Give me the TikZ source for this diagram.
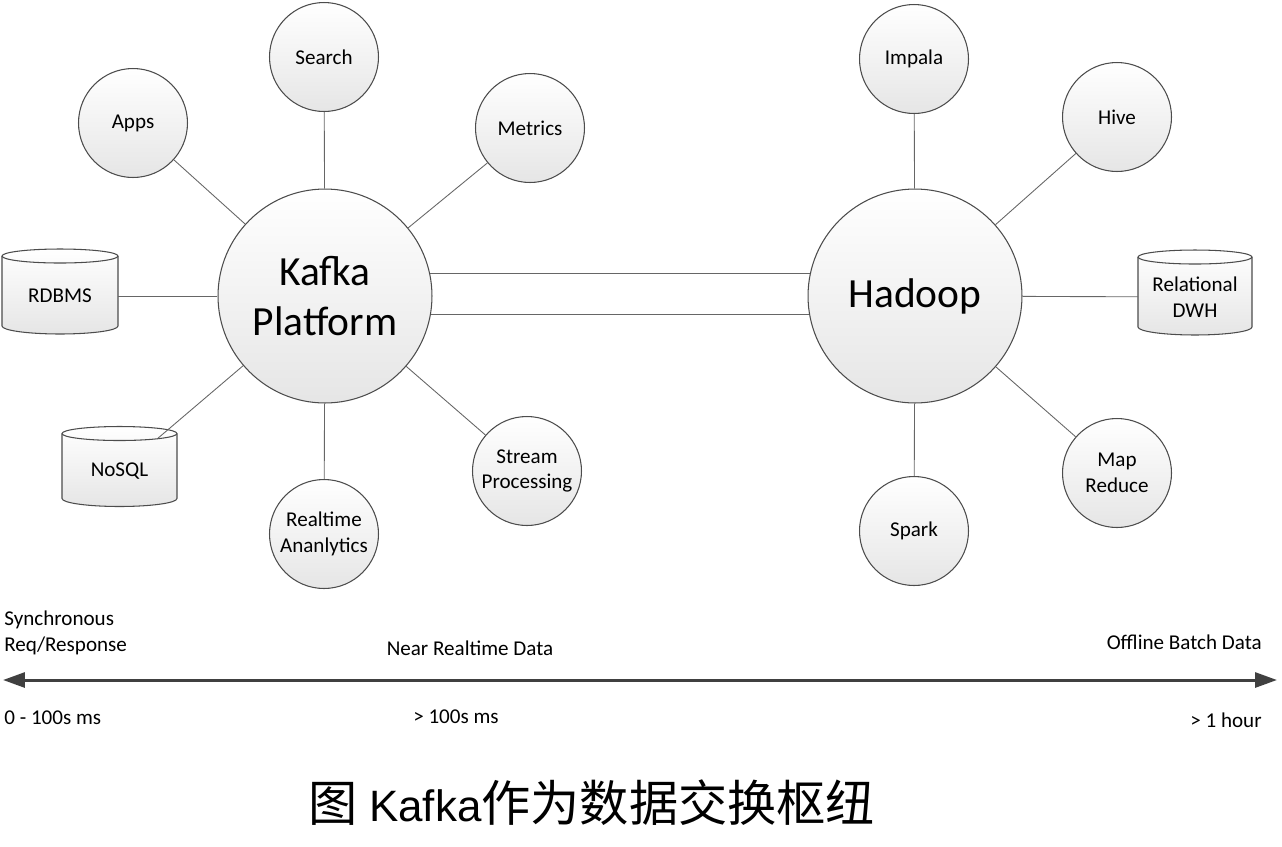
\documentclass[tikz,border=0pt]{standalone}
\usepackage{fontspec}
\setmainfont{Carlito}
\newfontfamily\cjk{Noto Sans CJK SC}
\newfontfamily\arialf{Liberation Sans}
\usetikzlibrary{arrows.meta,backgrounds}
\begin{document}
\begin{tikzpicture}[x=0.02cm,y=-0.02cm,
  smallc/.style={circle,draw=black!70,line width=0.6pt,top color=white,bottom color=black!10,
    minimum size=2.18cm,inner sep=0pt,align=center,font=\fontsize{12}{14.7}\selectfont},
  bigc/.style={smallc,minimum size=4.28cm,font=\fontsize{23.6}{28.5}\selectfont},
  cylnode/.style={rectangle,minimum height=1.4cm,inner sep=0pt,outer sep=0pt,align=center,
    font=\fontsize{12}{14.7}\selectfont},
  cylbody/.style={draw=black!70,line width=0.6pt,top color=white,bottom color=black!10},
  spoke/.style={draw=black!60,line width=0.5pt},
  lbl/.style={font=\fontsize{12}{14.7}\selectfont,inner sep=0pt,align=left},
  timeline/.style={draw=black!75,line width=1.7pt,
    {Triangle[length=0.44cm,width=0.3cm]}-{Triangle[length=0.44cm,width=0.3cm]}}
]
\useasboundingbox (0,0) rectangle (1282,846);
\newcommand\cylshape[2]{%
  \draw[cylbody] ([yshift=0.1cm]#1.north west)
     arc[start angle=180,end angle=0,x radius=#2,y radius=0.14cm]
     -- ([yshift=0.1cm]#1.south east)
     arc[start angle=0,end angle=-180,x radius=#2,y radius=0.16cm] -- cycle;
  \draw[draw=black!70,line width=0.6pt] ([yshift=0.1cm]#1.north west)
     arc[start angle=180,end angle=360,x radius=#2,y radius=0.14cm];}

% big hubs
\node[bigc] (kafka) at (325,296) {Kafka\\Platform};
\node[bigc] (hadoop) at (915,296) {Hadoop};

% kafka satellites
\node[smallc] (search) at (324,57) {Search};
\node[smallc] (apps) at (133,123) {Apps};
\node[smallc] (metrics) at (530,128) {Metrics};
\node[smallc] (stream) at (527,471) {Stream\\Processing};
\node[smallc] (realtime) at (324,534) {Realtime\\Ananlytics};
\node[cylnode,minimum width=2.32cm] (rdbms) at (60,296) {RDBMS};
\node[cylnode,minimum width=2.30cm,minimum height=1.3cm] (nosql) at (119.5,471) {NoSQL};

% hadoop satellites
\node[smallc] (impala) at (914,59) {Impala};
\node[smallc] (hive) at (1117,117) {Hive};
\node[smallc] (mapred) at (1117,473) {Map\\Reduce};
\node[smallc] (spark) at (914,531) {Spark};
\node[cylnode,minimum width=2.28cm] (dwh) at (1195,297) {Relational\\DWH};

\begin{scope}[on background layer]
  \cylshape{rdbms}{1.16cm}
  \cylshape{nosql}{1.15cm}
  \cylshape{dwh}{1.14cm}
\end{scope}

% connectors
\draw[spoke] (kafka) -- (search);
\draw[spoke] (kafka) -- (apps);
\draw[spoke] (kafka) -- (metrics);
\draw[spoke] (kafka) -- (stream);
\draw[spoke] (kafka) -- (realtime);
\draw[spoke] (kafka) -- (rdbms);
\draw[spoke] (kafka) -- (nosql);
\draw[spoke] (hadoop) -- (impala);
\draw[spoke] (hadoop) -- (hive);
\draw[spoke] (hadoop) -- (mapred);
\draw[spoke] (hadoop) -- (spark);
\draw[spoke] (hadoop) -- (dwh);
\draw[spoke] (kafka.12.4) -- (kafka.12.4 -| hadoop.167.6);
\draw[spoke] (kafka.-10.8) -- (kafka.-10.8 -| hadoop.-169.2);

% timeline
\coordinate (tl) at (3,680);
\coordinate (tr) at (1277,680);
\draw[timeline] (tl) -- (tr);

\node[lbl,anchor=west] (sync) at (4,632.5) {Synchronous\\Req/Response};
\node[lbl] (near) at (470,648) {Near Realtime Data};
\node[lbl,anchor=east] (offline) at (1262,642) {Offline Batch Data};
\node[lbl,anchor=west] (t0) at (4,718) {0 - 100s ms};
\node[lbl] (t1) at (456,717) {> 100s ms};
\node[lbl,anchor=east] (t2) at (1262,720) {> 1 hour};

% caption
\node[inner sep=0pt] (cap) at (592,803) {\cjk\fontsize{28}{30}\selectfont 图 {\arialf\fontsize{25}{30}\selectfont Kafka}作为数据交换枢纽};
\end{tikzpicture}
\end{document}
